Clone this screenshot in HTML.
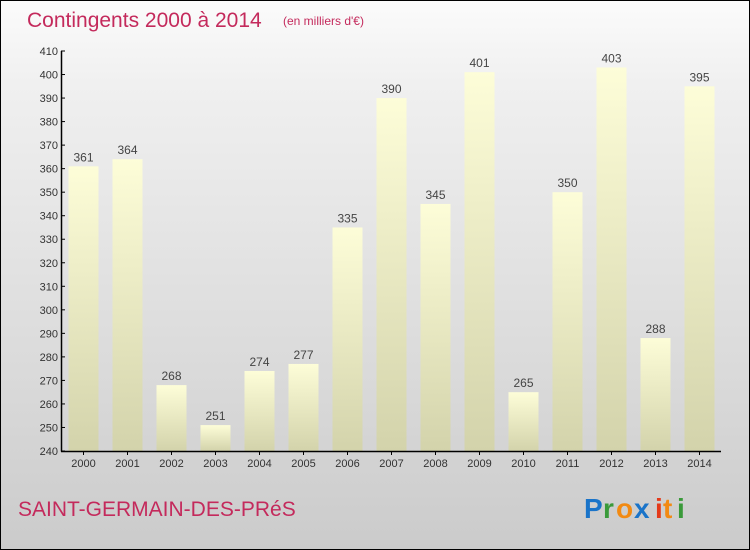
<!DOCTYPE html>
<html><head><meta charset="utf-8"><style>
body{margin:0}
#c{width:748px;height:548px;border:1px solid #000;background:linear-gradient(#fbfbfb,#f0f0f0 15%,#d9d9d9 70%,#cbcbcb);position:relative;overflow:hidden;font-family:"Liberation Sans",sans-serif}
svg{position:absolute;left:0;top:0}
</style></head><body>
<div id="c">
<svg id="s" width="750" height="550">
<defs><linearGradient id="g" x1="0" y1="0" x2="0" y2="1"><stop offset="0" stop-color="#fdfdd8"/><stop offset="1" stop-color="#d3d3ab"/></linearGradient></defs>
<text x="26" y="26" font-size="21" fill="#c42a5c">Contingents 2000 à 2014</text>
<text x="282" y="24" font-size="12" fill="#c42a5c">(en milliers d'€)</text>
<text x="17" y="515" font-size="21" fill="#c42a5c">SAINT-GERMAIN-DES-PRéS</text>
<g font-size="28" font-family="'Liberation Sans',sans-serif" font-weight="bold">
<text x="583" y="517" fill="#1a74c9">P</text><text x="602" y="517" fill="#3a9a3a">r</text><text x="615" y="517" fill="#f28a12">o</text><text x="633" y="517" fill="#1a74c9">x</text><text x="654" y="517" fill="#e43a1a">i</text><text x="662" y="517" fill="#f28a12">t</text><text x="676" y="517" fill="#3a9a3a">i</text></g>
<g id="plot"></g>
</svg></div>
<script>
const years=["2000","2001","2002","2003","2004","2005","2006","2007","2008","2009","2010","2011","2012","2013","2014"];
const values=[361,364,268,251,274,277,335,390,345,401,265,350,403,288,395];
const yTicks=[240,250,260,270,280,290,300,310,320,330,340,350,360,370,380,390,400,410];
const NS="http://www.w3.org/2000/svg";
const g=document.getElementById('plot');
const y=v=>450-(v-240)*400/170;
const x=i=>82.5+i*44;
function mk(t,a){const e=document.createElementNS(NS,t);for(const k in a)e.setAttribute(k,a[k]);g.appendChild(e);return e;}
values.forEach((v,i)=>{
 const r=mk('rect',{x:x(i)-15,y:y(v),width:30,height:450-y(v),fill:'url(#g)'});
 
 
 const t=mk('text',{x:x(i),y:y(v)-5,'text-anchor':'middle','font-size':12,fill:'#444'});t.textContent=v;
 
 
 const l=mk('text',{x:x(i),y:466,'text-anchor':'middle','font-size':11,fill:'#333'});l.textContent=years[i];
 
 
 const tk=mk('line',{x1:x(i),x2:x(i),y1:450,y2:454,stroke:'#000'});
 
 
});
yTicks.forEach(v=>{
 const tk=mk('line',{x1:60,x2:64,y1:y(v),y2:y(v),stroke:'#000'});
 
 
 const t=mk('text',{x:57,y:y(v)+4,'text-anchor':'end','font-size':11,fill:'#333'});t.textContent=v;
 
 
});
const ya=mk('line',{x1:60.5,x2:60.5,y1:50,y2:450.5,stroke:'#000','stroke-width':1.5});


const xa=mk('line',{x1:60,x2:720,y1:450.5,y2:450.5,stroke:'#000','stroke-width':1.5});


</script>
</body></html>
